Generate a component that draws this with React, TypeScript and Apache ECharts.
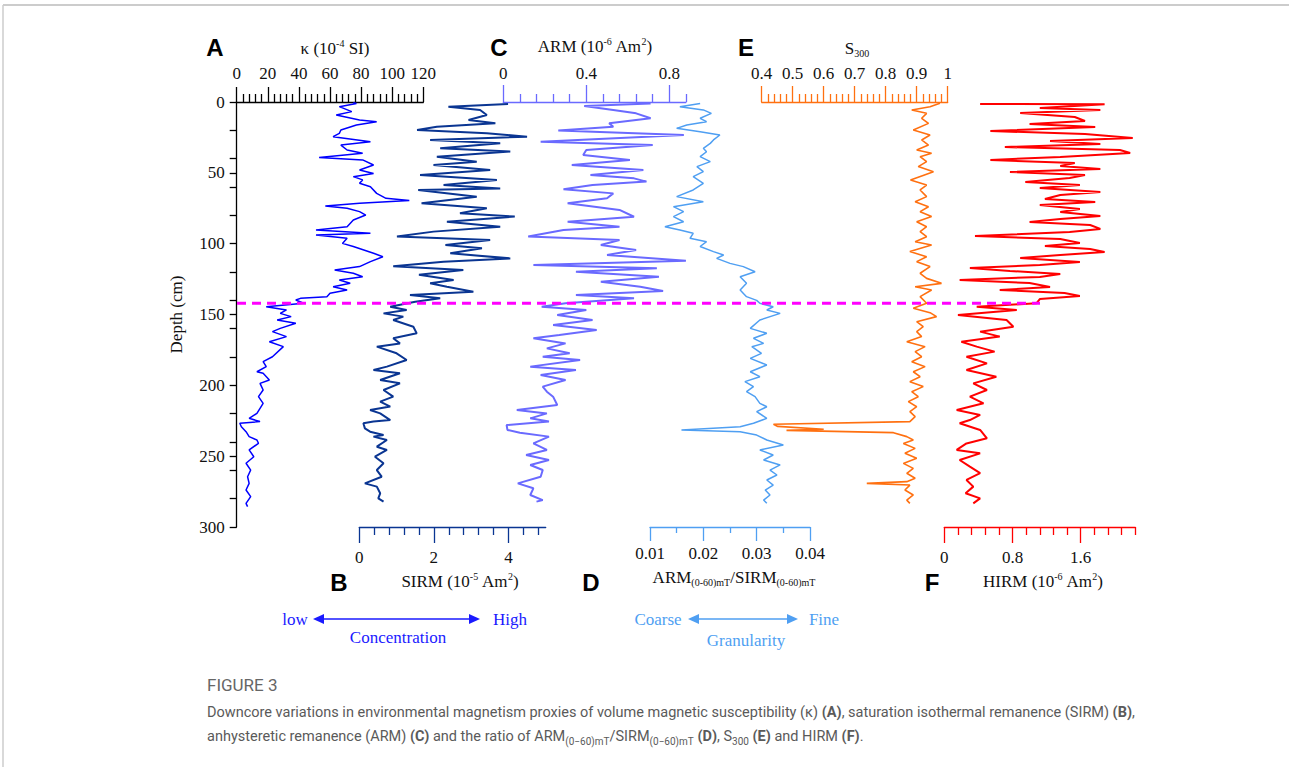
import React, { useEffect, useRef } from "react";
import * as echarts from "echarts";

// ---------- DATA : [depth (cm), value] ----------
const kappaProfile: number[][] = [
  [0.5, 75], [1, 77], [3.3, 66], [6.8, 74], [9.2, 64], [12.7, 79], [13.9, 90], [16.2, 77], [19.8, 67], [22.1, 66],
  [24.5, 62], [28, 86], [30.4, 67], [33.9, 71], [36.2, 81], [39.1, 53], [40.9, 81], [44.5, 88], [48, 79], [50.4, 88],
  [52.7, 75], [55, 81], [57.4, 79], [59.8, 86], [64.5, 90], [68, 96], [69.6, 111], [71.5, 79], [73.4, 57], [75, 71],
  [77.4, 79], [79.8, 83], [83.3, 75], [88, 71], [90.4, 51], [92.7, 86], [93.9, 51], [96.2, 71], [99.8, 68], [102, 75],
  [106.8, 88], [109.2, 94], [112.7, 86], [116.2, 79], [118.6, 63], [120.9, 75], [123.3, 81], [125.6, 66], [128, 73], [130.4, 62],
  [132.7, 71], [135, 60], [137.4, 58], [138.6, 41], [139.8, 38], [142.1, 43], [144.5, 19], [146.8, 32], [149.2, 28], [151.5, 35],
  [153.9, 26], [156.2, 38], [159.8, 28], [162.1, 23], [165.6, 32], [169.2, 21], [172.7, 30], [179.8, 23], [183.3, 17], [186.8, 19],
  [190.4, 13], [191.5, 17], [196.2, 21], [198.6, 15], [203.3, 17], [208, 14], [212.7, 17], [216.2, 15], [219.8, 13], [223.3, 8],
  [225.6, 15], [226.8, 2], [229.2, 3], [232.7, 6], [236.2, 8], [238.6, 13], [240.9, 14], [245.6, 8], [250.4, 11], [255, 6],
  [259.8, 9], [264.5, 7], [269.2, 8], [273.9, 6], [278.6, 9], [283.3, 6], [285.6, 7],
];

const sirmProfile: number[][] = [
  [1.4, 3.99], [3.3, 2.39], [5.6, 3.24], [9.2, 3.42], [12.7, 2.93], [15, 3.65], [17.4, 2.08], [19.8, 1.55], [22.1, 3.42], [24.5, 4.5],
  [26.8, 1.9], [29.2, 3.78], [32.7, 2.17], [35, 4.05], [38.6, 2.08], [42.1, 3.15], [44.5, 1.99], [48, 3.51], [51.5, 1.63], [55, 3.69],
  [58.6, 2.26], [61, 3.78], [62.1, 1.58], [66.8, 3.15], [71.5, 1.67], [75, 3.42], [78.6, 2.7], [80.9, 4.17], [84.5, 2.35], [88, 3.78],
  [91.5, 1.99], [95, 1.01], [97.4, 3.51], [100.9, 2.31], [103.3, 3.29], [106.8, 2.44], [110.4, 4.05], [112.7, 2.26], [116, 0.91], [118.6, 2.79],
  [122, 1.6], [125.6, 2.53], [127.9, 1.9], [130.4, 2.35], [133.9, 3.06], [136.2, 1.36], [138.6, 2.17], [141, 1.5], [144.5, 0.83], [146.8, 1.27],
  [149.2, 0.65], [151.5, 1.18], [153.9, 0.91], [158.6, 1.45], [163.3, 1.54], [166.8, 0.91], [170.4, 1.09], [172.7, 0.47], [177.4, 1.0], [182.1, 1.27],
  [186.8, 0.74], [189.2, 0.38], [191.5, 1.09], [196.2, 0.56], [198.6, 1.09], [203.3, 0.65], [208, 0.91], [211.5, 0.56], [215, 0.83], [217.4, 0.29],
  [219.8, 0.56], [224.5, 0.83], [225.6, 0.38], [226.8, 0.11], [230.4, 0.15], [232.7, 0.29], [235, 0.65], [236.2, 0.38], [238.6, 0.74], [243.3, 0.47],
  [245.6, 0.74], [250.4, 0.42], [255, 0.65], [259.8, 0.47], [264.5, 0.6], [269.2, 0.15], [271.5, 0.47], [276.2, 0.56], [279.8, 0.51], [282.1, 0.65],
];

const armProfile: number[][] = [
  [1, 0.71], [2.8, 0.39], [5.6, 0.53], [8, 0.64], [11.5, 0.71], [15, 0.51], [17.4, 0.53], [20.2, 0.265], [23.3, 0.87], [28, 0.18],
  [30.4, 0.72], [33.9, 0.4], [37.4, 0.385], [41, 0.61], [44.5, 0.33], [48, 0.675], [51.5, 0.42], [53.9, 0.63], [56.2, 0.69], [58.6, 0.43],
  [61.6, 0.29], [64.5, 0.53], [68, 0.5], [71.5, 0.31], [76.2, 0.56], [81, 0.63], [84.5, 0.31], [88, 0.56], [90.4, 0.29], [95, 0.12],
  [97.4, 0.56], [101, 0.47], [104.5, 0.64], [108, 0.5], [112, 0.88], [115, 0.145], [117.4, 0.74], [119.8, 0.35], [123.3, 0.75], [126.8, 0.47],
  [130.4, 0.66], [133.4, 0.77], [136.2, 0.35], [138.6, 0.63], [142, 0.3], [144.5, 0.185], [146.8, 0.4], [150.4, 0.26], [153.9, 0.43], [157.4, 0.24],
  [160.9, 0.45], [164.5, 0.27], [166.8, 0.145], [170.4, 0.3], [173.9, 0.21], [177.4, 0.32], [179.8, 0.19], [182.1, 0.37], [186.8, 0.13], [189.2, 0.35],
  [192.7, 0.18], [196.2, 0.3], [200.9, 0.19], [204.5, 0.21], [208, 0.24], [213.9, 0.26], [217.4, 0.065], [219.8, 0.21], [223.3, 0.13], [225.6, 0.22],
  [228, 0.016], [231.5, 0.02], [233.4, 0.08], [236.2, 0.22], [241, 0.145], [245.6, 0.21], [249.2, 0.11], [252.7, 0.22], [256.2, 0.13], [259.8, 0.19],
  [264.5, 0.18], [269.2, 0.07], [272.7, 0.145], [277.4, 0.13], [281, 0.19], [282.1, 0.16],
];

const ratioProfile: number[][] = [
  [1, 0.0194], [3.3, 0.0156], [5.6, 0.02], [8, 0.0215], [11.5, 0.0194], [13.9, 0.0206], [16.2, 0.0169], [18.6, 0.015], [21, 0.0194], [23.3, 0.0231],
  [26.8, 0.0219], [29.2, 0.0213], [32.7, 0.02], [35.1, 0.0206], [38.6, 0.0194], [42.1, 0.0213], [45.6, 0.0188], [49.2, 0.02], [52.7, 0.0181], [57.4, 0.02],
  [62.1, 0.0181], [66.8, 0.015], [70.4, 0.02], [73.9, 0.0144], [77.4, 0.0163], [80.9, 0.0144], [84.5, 0.0163], [88, 0.0128], [90.4, 0.0156], [92.7, 0.0181],
  [96.2, 0.0175], [98.6, 0.0206], [102, 0.0194], [105.6, 0.0219], [108, 0.0238], [110.4, 0.0225], [113.9, 0.025], [116.2, 0.0275], [119.8, 0.0297], [123.3, 0.0269],
  [128, 0.0281], [132.7, 0.0269], [137.4, 0.0281], [140, 0.03], [142.1, 0.0306], [144.5, 0.0331], [146.8, 0.0319], [149.2, 0.0344], [153.9, 0.0306], [159.8, 0.0288],
  [163.3, 0.0319], [166.8, 0.0294], [170.4, 0.0313], [172.7, 0.0291], [177.4, 0.0309], [181, 0.0288], [185.6, 0.0319], [190.4, 0.0288], [193.9, 0.0306], [197.4, 0.0278],
  [200.9, 0.0294], [204.5, 0.0281], [208, 0.0297], [212.7, 0.0306], [215.1, 0.0319], [218.6, 0.03], [223.3, 0.0319], [226.8, 0.0294], [229.2, 0.0269], [231.5, 0.0159],
  [232.7, 0.0269], [235.1, 0.03], [238.6, 0.0319], [242.1, 0.035], [245.6, 0.0306], [249.2, 0.0331], [252.7, 0.0313], [256.2, 0.0344], [259.8, 0.0325], [263.3, 0.0338],
  [266.8, 0.0319], [270.4, 0.0331], [273.9, 0.0316], [277.4, 0.0325], [281, 0.0313], [283.3, 0.0319],
];

const s300Profile: number[][] = [
  [0.9, 0.975], [3.3, 0.943], [5.6, 0.884], [8, 0.932], [11.5, 0.916], [15.1, 0.938], [19.8, 0.889], [23.3, 0.943], [26.8, 0.916], [30.4, 0.938],
  [33.9, 0.9], [36.2, 0.948], [38.6, 0.911], [42.1, 0.932], [45.6, 0.905], [49.2, 0.954], [52.2, 0.916], [55.1, 0.88], [58.6, 0.932], [62.1, 0.911],
  [66.8, 0.932], [70.4, 0.895], [73.9, 0.938], [77.4, 0.911], [80.9, 0.948], [84.5, 0.9], [88, 0.932], [91.5, 0.911], [95.1, 0.932], [98.6, 0.895],
  [100.9, 0.948], [105.6, 0.878], [109.2, 0.932], [112.7, 0.9], [116.2, 0.943], [120.9, 0.911], [124.5, 0.932], [128, 0.98], [130.4, 0.895], [132.7, 0.948],
  [137.4, 0.911], [142.1, 0.932], [145.6, 0.889], [148.7, 0.943], [151.5, 0.964], [155.1, 0.9], [158.6, 0.921], [162.1, 0.9], [165.6, 0.916], [169.2, 0.868],
  [172.7, 0.927], [176.2, 0.895], [179.8, 0.916], [183.3, 0.884], [186.8, 0.927], [190.4, 0.889], [193.9, 0.911], [197.4, 0.878], [200.9, 0.921], [204.5, 0.884],
  [208, 0.905], [211.5, 0.873], [215.1, 0.9], [218.6, 0.878], [222.1, 0.895], [225.6, 0.878], [227.5, 0.438], [229, 0.452], [231, 0.6], [231.8, 0.48],
  [233.4, 0.825], [236.2, 0.868], [238.6, 0.889], [241, 0.857], [244.5, 0.895], [248, 0.862], [251.5, 0.9], [255.1, 0.857], [258.6, 0.889], [262.1, 0.868],
  [265.6, 0.895], [268, 0.868], [269.2, 0.739], [270.4, 0.878], [273.9, 0.862], [277.4, 0.889], [281, 0.868], [283.3, 0.878],
];

const hirmProfile: number[][] = [
  [1.4, 0.42], [1.6, 1.88], [4.2, 1.12], [5.6, 1.83], [7.8, 0.89], [10.6, 1.53], [13.4, 1.65], [15.5, 1.0], [17.6, 1.77], [20.5, 0.54],
  [22.6, 1.65], [25.4, 2.21], [27.5, 1.24], [29.6, 1.83], [31.8, 0.71], [33.9, 2.06], [36, 2.18], [38.8, 1.36], [40.9, 0.54], [43.1, 1.53],
  [45.2, 1.36], [47.3, 1.83], [49.4, 0.77], [51.5, 1.65], [53.6, 1.47], [56.5, 0.95], [58.6, 1.59], [60.7, 1.12], [63.5, 1.83], [65.6, 1.36],
  [68.5, 1.18], [70.6, 1.77], [72.7, 1.12], [75.5, 1.59], [77.6, 1.36], [80.5, 1.83], [82.6, 1.36], [84.7, 1.0], [86.8, 1.71], [89.6, 1.83],
  [91.8, 1.47], [94.6, 0.36], [96.7, 1.36], [99.5, 1.59], [101.6, 1.18], [103.8, 1.71], [105.9, 1.88], [108, 1.36], [110.1, 0.89], [112.9, 1.59],
  [115.1, 1.12], [117.2, 0.3], [119.3, 0.77], [121.4, 1.36], [123.5, 1.12], [125.6, 0.18], [127.8, 1.0], [130.6, 1.24], [132.7, 0.65], [134.8, 1.41],
  [136.9, 1.59], [139.1, 1.12], [142.1, 1.08], [144.5, 0.38], [146.8, 0.85], [150.4, 0.16], [153.9, 0.73], [158.6, 0.81], [162.1, 0.42], [165.6, 0.65],
  [169.2, 0.2], [172.7, 0.38], [176.2, 0.59], [179.8, 0.26], [184.5, 0.5], [189.2, 0.26], [193.9, 0.61], [198.6, 0.34], [203.3, 0.5], [208, 0.3],
  [212.7, 0.46], [217.4, 0.145], [220.9, 0.42], [224.5, 0.3], [226.8, 0.18], [231.5, 0.42], [237.4, 0.5], [241, 0.26], [245.6, 0.145], [248, 0.42],
  [252.7, 0.18], [257.4, 0.3], [262, 0.42], [266.8, 0.26], [271.5, 0.34], [276.2, 0.25], [279.8, 0.42], [283.3, 0.34],
];

const boundaryDepth = 142;

// ---------- TICKS ----------
const depthTickValues = [0, 20, 40, 50, 60, 80, 100, 120, 140, 150, 160, 180, 200, 220, 240, 250, 260, 280, 300];
const depthLabelValues = [0, 50, 100, 150, 200, 250, 300];
const kappaMajor = [0, 20, 40, 60, 80, 100, 120];
const kappaMinor = [4, 8, 12, 16, 24, 28, 32, 36, 44, 48, 52, 56, 64, 68, 72, 76, 84, 88, 92, 96, 104, 108, 112, 116];
const sirmMajor = [0, 2, 4];
const sirmMinor = [0.4, 0.8, 1.2, 1.6, 2.4, 2.8, 3.2, 3.6, 4.4, 4.8];
const armMajor = [0, 0.4, 0.8];
const armMinor = [0.08, 0.16, 0.24, 0.32, 0.48, 0.56, 0.64, 0.72, 0.88];
const ratioMajor = [0.01, 0.02, 0.03, 0.04];
const ratioMinor = [0.015, 0.025, 0.035];
const s300Major = [0.4, 0.5, 0.6, 0.7, 0.8, 0.9, 1];
const s300Minor = [0.42, 0.44, 0.46, 0.48, 0.52, 0.54, 0.56, 0.58, 0.62, 0.64, 0.66, 0.68, 0.72, 0.74, 0.76, 0.78, 0.82, 0.84, 0.86, 0.88, 0.92, 0.94, 0.96, 0.98];
const hirmMajor = [0, 0.8, 1.6];
const hirmMinor = [0.16, 0.32, 0.48, 0.64, 0.96, 1.12, 1.28, 1.44, 1.76, 1.92, 2.08, 2.24];

const SERIF = "'Liberation Serif', 'Times New Roman', serif";
const SANS = "'Liberation Sans', Arial, sans-serif";

function buildOption() {
  const TOP = 102;
  const H = 425;
  const panels = [
    { data: kappaProfile, color: "#0000ff", axisColor: "#000000", left: 236.7, width: 186.6, min: 0, max: 120, pos: "top", major: kappaMajor, minor: kappaMinor, majorLen: 15, minorLen: 8, margin: 20, lw: 1.5 },
    { data: sirmProfile, color: "#0a3592", axisColor: "#0a3592", left: 359.3, width: 186.4, min: 0, max: 5, pos: "bottom", major: sirmMajor, minor: sirmMinor, majorLen: 16, minorLen: 8, margin: 22, lw: 2 },
    { data: armProfile, color: "#6a6aff", axisColor: "#6a6aff", left: 503.3, width: 182.6, min: 0, max: 0.88, pos: "top", major: armMajor, minor: armMinor, majorLen: 17, minorLen: 8, margin: 20, lw: 2 },
    { data: ratioProfile, color: "#4f9ff2", axisColor: "#4f9ff2", left: 650, width: 160, min: 0.01, max: 0.04, pos: "bottom", major: ratioMajor, minor: ratioMinor, majorLen: 14, minorLen: 6, margin: 18, lw: 1.5 },
    { data: s300Profile, color: "#ff7010", axisColor: "#ff7010", left: 761.7, width: 186, min: 0.4, max: 1, pos: "top", major: s300Major, minor: s300Minor, majorLen: 16, minorLen: 8, margin: 20, lw: 1.6 },
    { data: hirmProfile, color: "#ff0000", axisColor: "#ff0000", left: 944.3, width: 191, min: 0, max: 2.24, pos: "bottom", major: hirmMajor, minor: hirmMinor, majorLen: 16, minorLen: 8, margin: 22, lw: 2 },
  ];

  const grid: any[] = [];
  const xAxis: any[] = [];
  const yAxis: any[] = [];
  const series: any[] = [];

  panels.forEach((p, i) => {
    grid.push({ left: p.left, width: p.width, top: TOP, height: H, containLabel: false });
    xAxis.push({
      type: "value", gridIndex: i, min: p.min, max: p.max, position: p.pos,
      axisLine: { show: true, onZero: false, lineStyle: { color: p.axisColor, width: 1.3 } },
      axisTick: { show: true, customValues: p.major, length: p.majorLen, lineStyle: { color: p.axisColor, width: 1.3 } },
      axisLabel: { show: true, customValues: p.major, margin: p.margin, color: "#111", fontSize: 17, fontFamily: SERIF },
      splitLine: { show: false },
    });
    xAxis.push({
      type: "value", gridIndex: i, min: p.min, max: p.max, position: p.pos,
      axisLine: { show: false, onZero: false },
      axisTick: { show: true, customValues: p.minor, length: p.minorLen, lineStyle: { color: p.axisColor, width: 1.3 } },
      axisLabel: { show: false },
      splitLine: { show: false },
    });
    yAxis.push(
      i === 0
        ? {
            type: "value", gridIndex: i, min: 0, max: 300, inverse: true, position: "left",
            name: "Depth (cm)", nameLocation: "middle", nameGap: 52,
            nameTextStyle: { fontFamily: SERIF, fontSize: 17, color: "#111" },
            axisLine: { show: true, onZero: false, lineStyle: { color: "#000", width: 1.3 } },
            axisTick: { show: true, customValues: depthTickValues, length: 7, lineStyle: { color: "#000", width: 1.3 } },
            axisLabel: { show: true, customValues: depthLabelValues, margin: 12, color: "#111", fontSize: 17, fontFamily: SERIF },
            splitLine: { show: false },
          }
        : { type: "value", gridIndex: i, min: 0, max: 300, inverse: true, show: false, axisLine: { onZero: false }, splitLine: { show: false } }
    );
    series.push({
      type: "line", xAxisIndex: 2 * i, yAxisIndex: i,
      data: p.data.map(([d, v]) => [v, d]),
      showSymbol: false, symbol: "none", silent: true,
      lineStyle: { color: p.color, width: p.lw }, itemStyle: { color: p.color },
      z: 3,
    });
  });

  // overlay grid for the boundary line
  const gi = panels.length;
  grid.push({ left: 237, width: 803, top: TOP, height: H });
  xAxis.push({ type: "value", gridIndex: gi, min: 0, max: 1, show: false, splitLine: { show: false } });
  yAxis.push({ type: "value", gridIndex: gi, min: 0, max: 300, inverse: true, show: false, splitLine: { show: false } });
  series.push({
    type: "line", xAxisIndex: 2 * gi, yAxisIndex: gi,
    data: [[0, boundaryDepth], [1, boundaryDepth]],
    showSymbol: false, symbol: "none", silent: true,
    lineStyle: { color: "#ff00ff", width: 3, type: [9, 6] }, z: 10,
  });

  const t = (x: number, y: number, text: string, extra: any = {}) => ({
    type: "text", x, y, silent: true,
    style: {
      text, fontFamily: SERIF, fontSize: 17, fill: "#111",
      align: "center", textAlign: "center", verticalAlign: "middle", textVerticalAlign: "middle",
      ...extra,
    },
  });
  const richT = { fontFamily: SERIF, fontSize: 17, lineHeight: 20, fill: "#111" };
  const sup = { fontFamily: SERIF, fontSize: 10, lineHeight: 10, verticalAlign: "top", fill: "#111" };
  const sub = { fontFamily: SERIF, fontSize: 10, lineHeight: 10, verticalAlign: "bottom", fill: "#111" };
  const rich = { t: richT, s: sup, b: sub };
  const letter = (x: number, y: number, s: string) => t(x, y, s, { fontFamily: SANS, fontWeight: "bold", fontSize: 24, fill: "#000" });

  const arrow = (x1: number, x2: number, y: number, color: string) => [
    { type: "line", silent: true, shape: { x1: x1 + 6, y1: y, x2: x2 - 6, y2: y }, style: { stroke: color, lineWidth: 1.5 } },
    { type: "polygon", silent: true, shape: { points: [[x1, y], [x1 + 11, y - 5], [x1 + 11, y + 5]] }, style: { fill: color } },
    { type: "polygon", silent: true, shape: { points: [[x2, y], [x2 - 11, y - 5], [x2 - 11, y + 5]] }, style: { fill: color } },
  ];

  const CAP = "Roboto, 'Noto Sans', sans-serif";
  const capN = { fontFamily: CAP, fontSize: 14.5, lineHeight: 20, fill: "#5a5a5a" };
  const capB = { fontFamily: CAP, fontSize: 14.5, lineHeight: 20, fontWeight: "bold", fill: "#5a5a5a" };
  const capS = { fontFamily: CAP, fontSize: 10, lineHeight: 10, verticalAlign: "bottom", fill: "#5a5a5a" };
  const capRich = { n: capN, b: capB, s: capS };

  const graphic: any[] = [
    { type: "line", silent: true, shape: { x1: 3, y1: 5, x2: 1289, y2: 5 }, style: { stroke: "#cccccc", lineWidth: 2 } },
    { type: "line", silent: true, shape: { x1: 3, y1: 5, x2: 3, y2: 767 }, style: { stroke: "#cccccc", lineWidth: 1.5 } },
    letter(215, 47, "A"), letter(499, 47, "C"), letter(746, 47, "E"),
    letter(339, 582, "B"), letter(591, 582, "D"), letter(932, 582, "F"),
    t(335, 48, "{t|κ (10}{s|-4}{t| SI)}", { rich }),
    t(595, 46, "{t|ARM (10}{s|-6}{t| Am}{s|2}{t|)}", { rich }),
    t(857, 48, "{t|S}{b|300}", { rich }),
    t(460, 581, "{t|SIRM (10}{s|-5}{t| Am}{s|2}{t|)}", { rich }),
    t(734, 577, "{t|ARM}{b|(0-60)mT}{t|/SIRM}{b|(0-60)mT}", { rich }),
    t(1043, 581, "{t|HIRM (10}{s|-6}{t| Am}{s|2}{t|)}", { rich }),
    t(295, 619, "low", { fill: "#1a1aff" }),
    t(510, 619, "High", { fill: "#1a1aff" }),
    t(398, 637, "Concentration", { fill: "#1a1aff" }),
    ...arrow(313, 480, 619, "#1a1aff"),
    t(658, 619, "Coarse", { fill: "#4f9ff2" }),
    t(824, 619, "Fine", { fill: "#4f9ff2" }),
    t(746, 640, "Granularity", { fill: "#4f9ff2" }),
    ...arrow(688, 798, 619, "#4f9ff2"),
    { type: "text", x: 207, y: 685, silent: true, style: { text: "FIGURE 3", fontFamily: CAP, fontSize: 17, fill: "#666666", align: "left", textAlign: "left", verticalAlign: "middle", textVerticalAlign: "middle" } },
    {
      type: "text", x: 207, y: 712, silent: true,
      style: {
        text: "{n|Downcore variations in environmental magnetism proxies of volume magnetic susceptibility (κ) }{b|(A)}{n|, saturation isothermal remanence (SIRM) }{b|(B)}{n|,}",
        rich: capRich, align: "left", textAlign: "left", verticalAlign: "middle", textVerticalAlign: "middle",
      },
    },
    {
      type: "text", x: 207, y: 736, silent: true,
      style: {
        text: "{n|anhysteretic remanence (ARM) }{b|(C)}{n| and the ratio of ARM}{s|(0−60)mT}{n|/SIRM}{s|(0−60)mT}{n| }{b|(D)}{n|, S}{s|300}{n| }{b|(E)}{n| and HIRM }{b|(F)}{n|.}",
        rich: capRich, align: "left", textAlign: "left", verticalAlign: "middle", textVerticalAlign: "middle",
      },
    },
  ];

  return { animation: false, backgroundColor: "#ffffff", grid, xAxis, yAxis, series, graphic };
}

export default function App() {
  const ref = useRef<HTMLDivElement>(null);
  useEffect(() => {
    if (!ref.current) return;
    const chart = echarts.init(ref.current, null, { renderer: "svg" });
    chart.setOption(buildOption() as any);
    return () => chart.dispose();
  }, []);
  return (
    <div
      ref={ref}
      style={{ position: "fixed", left: 0, top: 0, width: 1289, height: 767, background: "#fff" }}
    />
  );
}
